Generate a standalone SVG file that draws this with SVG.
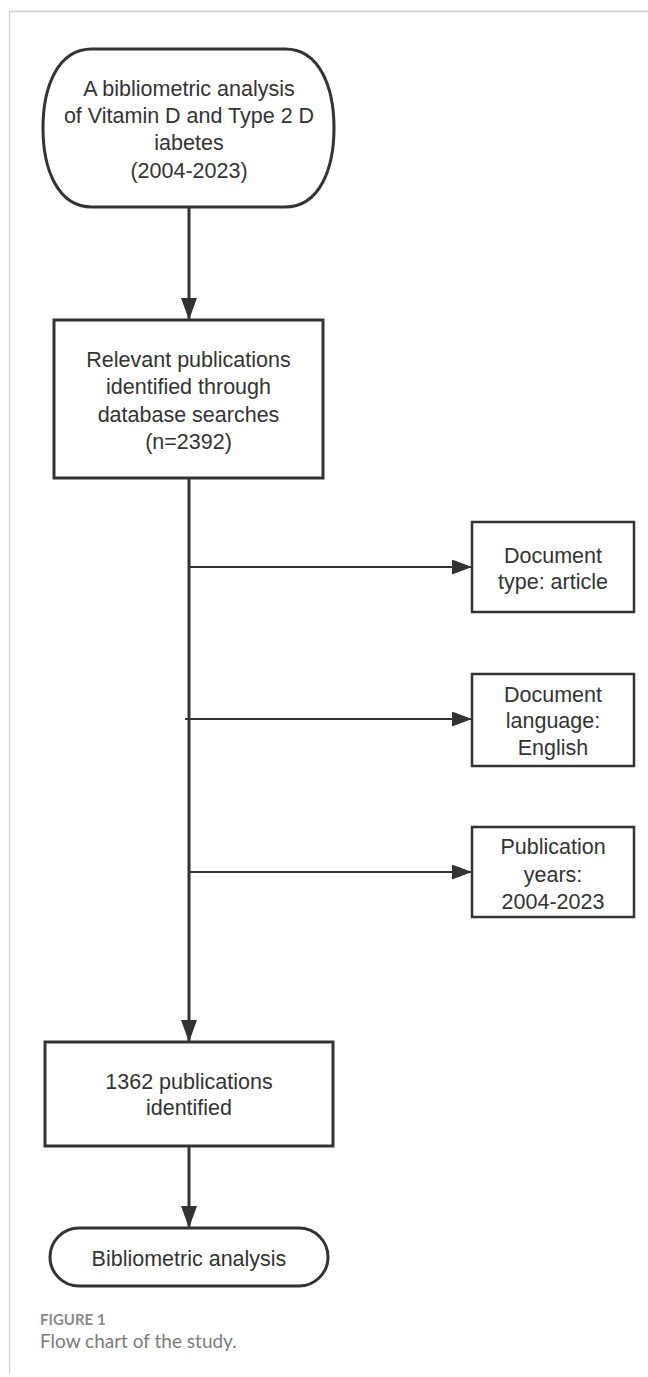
<svg xmlns="http://www.w3.org/2000/svg" width="648" height="1377" viewBox="0 0 648 1377">
<style>
.node{fill:#fff;stroke:#333;stroke-width:3}
.small{fill:#fff;stroke:#333;stroke-width:2.5}
.t{font-family:"Liberation Sans",Arial,sans-serif;font-size:21.5px;fill:#333;text-anchor:middle}
.trunk{fill:none;stroke:#333;stroke-width:3}
.branch{fill:none;stroke:#333;stroke-width:2.2}
.frame{fill:none;stroke:#cfcfcf;stroke-width:1.3}
.cap1{font-family:Lato,"Open Sans",sans-serif;font-size:15px;font-weight:bold;fill:#8a8a8a}
.cap2{font-family:Lato,"Open Sans",sans-serif;font-size:19px;fill:#7a7a7a}
</style>
<defs>
<marker id="ah" viewBox="0 0 22 16" refX="22" refY="8" markerWidth="22" markerHeight="16" markerUnits="userSpaceOnUse" orient="auto">
<path d="M0,0 L22,8 L0,16 Z" fill="#333"/>
</marker>
<marker id="ahs" viewBox="0 0 20 15" refX="20" refY="7.5" markerWidth="20" markerHeight="15" markerUnits="userSpaceOnUse" orient="auto">
<path d="M0,0 L20,7.5 L0,15 Z" fill="#333"/>
</marker>
</defs>
<g id="frame">
<path class="frame" d="M9.5,1373 V11.5 H648"/>
</g>
<g id="connectors">
<line class="trunk" x1="189" y1="207" x2="189" y2="320" marker-end="url(#ah)"/>
<line class="trunk" x1="189" y1="478" x2="189" y2="1042" marker-end="url(#ah)"/>
<line class="branch" x1="189" y1="567" x2="472" y2="567" marker-end="url(#ahs)"/>
<line class="branch" x1="185" y1="719" x2="472" y2="719" marker-end="url(#ahs)"/>
<line class="branch" x1="189" y1="872" x2="472" y2="872" marker-end="url(#ahs)"/>
<line class="trunk" x1="189" y1="1146" x2="189" y2="1228" marker-end="url(#ah)"/>
</g>
<g id="start">
<path class="node" d="M92,49 H285 C320,49 334,88 334,128 C334,168 320,207 285,207 H92 C57,207 43,168 43,128 C43,88 57,49 92,49 Z"/>
<text class="t" x="189" y="96">A bibliometric analysis</text>
<text class="t" x="189" y="123">of Vitamin D and Type 2 D</text>
<text class="t" x="189" y="150">iabetes</text>
<text class="t" x="189" y="178">(2004-2023)</text>
</g>
<g id="identified">
<rect class="node" x="54" y="320" width="269" height="158"/>
<text class="t" x="188.5" y="367">Relevant publications</text>
<text class="t" x="188.5" y="394">identified through</text>
<text class="t" x="188.5" y="422">database searches</text>
<text class="t" x="188.5" y="449">(n=2392)</text>
</g>
<g id="doctype">
<rect class="small" x="472" y="522" width="162" height="90"/>
<text class="t" x="553" y="563">Document</text>
<text class="t" x="553" y="589">type: article</text>
</g>
<g id="doclang">
<rect class="small" x="472" y="674" width="162" height="92"/>
<text class="t" x="553" y="702">Document</text>
<text class="t" x="553" y="728">language:</text>
<text class="t" x="553" y="755">English</text>
</g>
<g id="pubyears">
<rect class="small" x="472" y="827" width="162" height="90"/>
<text class="t" x="553" y="854">Publication</text>
<text class="t" x="553" y="882">years:</text>
<text class="t" x="553" y="909">2004-2023</text>
</g>
<g id="final1362">
<rect class="node" x="45" y="1042" width="288" height="104"/>
<text class="t" x="189" y="1089">1362 publications</text>
<text class="t" x="189" y="1115">identified</text>
</g>
<g id="analysis">
<rect class="node" x="50" y="1228" width="278" height="58" rx="29" ry="29"/>
<text class="t" x="189" y="1266">Bibliometric analysis</text>
</g>
<g id="caption">
<text class="cap1" x="40" y="1325">FIGURE 1</text>
<text class="cap2" x="40" y="1348">Flow chart of the study.</text>
</g>
</svg>
